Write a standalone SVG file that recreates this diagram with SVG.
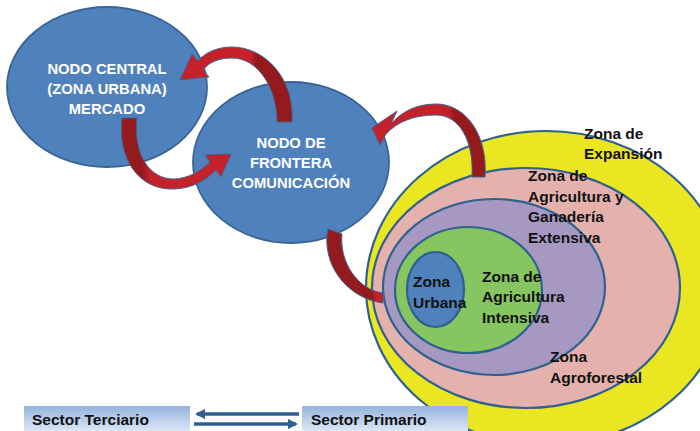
<svg xmlns="http://www.w3.org/2000/svg" width="700" height="431" viewBox="0 0 700 431">
<style>
.node{fill:#4F81BD;stroke:#3A6593;stroke-width:1.8}
.zone{stroke:#2F6190;stroke-width:2.2}
.wt{font-family:"Liberation Sans",Arial,sans-serif;font-weight:bold;font-size:14.8px;fill:#FFFFFF;text-anchor:middle}
.bt{font-family:"Liberation Sans",Arial,sans-serif;font-weight:bold;font-size:15.5px;fill:#111111}
.arr{stroke:#41648F;stroke-width:1;stroke-linejoin:round}
.blk{stroke:#2F5F8F;stroke-width:3.5;fill:none}
</style>
<defs>
<linearGradient id="g1" gradientUnits="userSpaceOnUse" x1="180" y1="0" x2="295" y2="0">
<stop offset="0.62" stop-color="#C4212A"/><stop offset="0.66" stop-color="#941A1E"/>
</linearGradient>
<linearGradient id="g2" gradientUnits="userSpaceOnUse" x1="120" y1="0" x2="232" y2="0">
<stop offset="0.2" stop-color="#941A1E"/><stop offset="0.27" stop-color="#C4212A"/>
</linearGradient>
<linearGradient id="g3" gradientUnits="userSpaceOnUse" x1="372" y1="0" x2="486" y2="0">
<stop offset="0.68" stop-color="#C4212A"/><stop offset="0.72" stop-color="#941A1E"/>
</linearGradient>
<linearGradient id="g4" gradientUnits="userSpaceOnUse" x1="325" y1="0" x2="384" y2="0">
<stop offset="0.8" stop-color="#941A1E"/><stop offset="0.86" stop-color="#C4212A"/>
</linearGradient>
<linearGradient id="sect" x1="0" y1="0" x2="0" y2="1">
<stop offset="0" stop-color="#95B3DE"/><stop offset="1" stop-color="#DCE6F4"/>
</linearGradient>
<marker id="ah" viewBox="0 0 10 10" refX="8" refY="5" markerWidth="3" markerHeight="3" orient="auto">
<path d="M0,0 L10,5 L0,10 Z" fill="#2F5F8F"/>
</marker>
</defs>

<g id="zona-expansion">
<ellipse class="zone" cx="546" cy="288" rx="180" ry="157" fill="#EAE621"/>
</g>
<g id="zona-extensiva">
<ellipse class="zone" cx="526" cy="288" rx="154" ry="120" fill="#E5B1AD"/>
</g>
<g id="zona-agroforestal">
<ellipse class="zone" cx="494" cy="287" rx="111" ry="88" fill="#A698C1"/>
</g>
<g id="zona-intensiva">
<ellipse class="zone" cx="468.5" cy="290" rx="73.5" ry="63" fill="#86C55F"/>
</g>
<g id="zona-urbana">
<ellipse class="zone" cx="435.5" cy="289.5" rx="28.5" ry="37.5" fill="#4F81BD"/>
</g>
<g id="zone-labels">
<text class="bt" x="584" y="139">Zona de</text>
<text class="bt" x="584" y="159">Expansión</text>
<text class="bt" x="528" y="181">Zona de</text>
<text class="bt" x="528" y="202">Agricultura y</text>
<text class="bt" x="528" y="222">Ganadería</text>
<text class="bt" x="528" y="243">Extensiva</text>
<text class="bt" x="550" y="362">Zona</text>
<text class="bt" x="550" y="383">Agroforestal</text>
<text class="bt" x="482" y="282">Zona de</text>
<text class="bt" x="482" y="302">Agricultura</text>
<text class="bt" x="482" y="323">Intensiva</text>
<text class="bt" x="413" y="287">Zona</text>
<text class="bt" x="413" y="308">Urbana</text>
</g>

<g id="nodo-central">
<ellipse class="node" cx="107" cy="87" rx="100" ry="80"/>
<text class="wt" x="107" y="74">NODO CENTRAL</text>
<text class="wt" x="107" y="94">(ZONA URBANA)</text>
<text class="wt" x="107" y="114">MERCADO</text>
</g>
<g id="nodo-frontera">
<ellipse class="node" cx="291" cy="162.5" rx="98" ry="80.5"/>
<text class="wt" x="291" y="148">NODO DE</text>
<text class="wt" x="291" y="168">FRONTERA</text>
<text class="wt" x="291" y="188">COMUNICACIÓN</text>
</g>

<g id="sector-terciario">
<rect x="24" y="406" width="166" height="25" fill="url(#sect)"/>
<text class="bt" x="32" y="425">Sector Terciario</text>
</g>
<g id="sector-primario">
<rect x="302" y="406" width="166" height="25" fill="url(#sect)"/>
<text class="bt" x="311" y="425">Sector Primario</text>
</g>

<g id="connectors">
<path class="arr" fill="url(#g1)" d="M292,122 C295,80 266,47 232,47 C215,47 204,54 198,61 L192,54 L180,80 L209,77 L203,70 C209,62 219,58 232,58 C258,58 277,88 277,122 Z"/>
<path class="arr" fill="url(#g2)" d="M122,118 C117,160 140,191 175,189 C193,188 206,180 216,170 L221,177 L231,154 L205,155 L210,162 C200,172 188,178 175,179 C150,180 133,155 137,118 Z"/>
<path class="arr" fill="url(#g3)" d="M485,177 C488,135 466,104 436,104 C416,104 401,112 391,124 L397,111 L372,128 L380,145 L386,134 C398,121 415,115 436,115 C459,115 474,140 472,177 Z"/>
<path class="arr" fill="url(#g4)" d="M328,229 C321,262 345,298 383,303 L383,293 C358,290 339,262 342,234 Z"/>
<line class="blk" x1="299" y1="414" x2="197" y2="414" marker-end="url(#ah)"/>
<line class="blk" x1="194" y1="424" x2="296" y2="424" marker-end="url(#ah)"/>
</g>
</svg>
